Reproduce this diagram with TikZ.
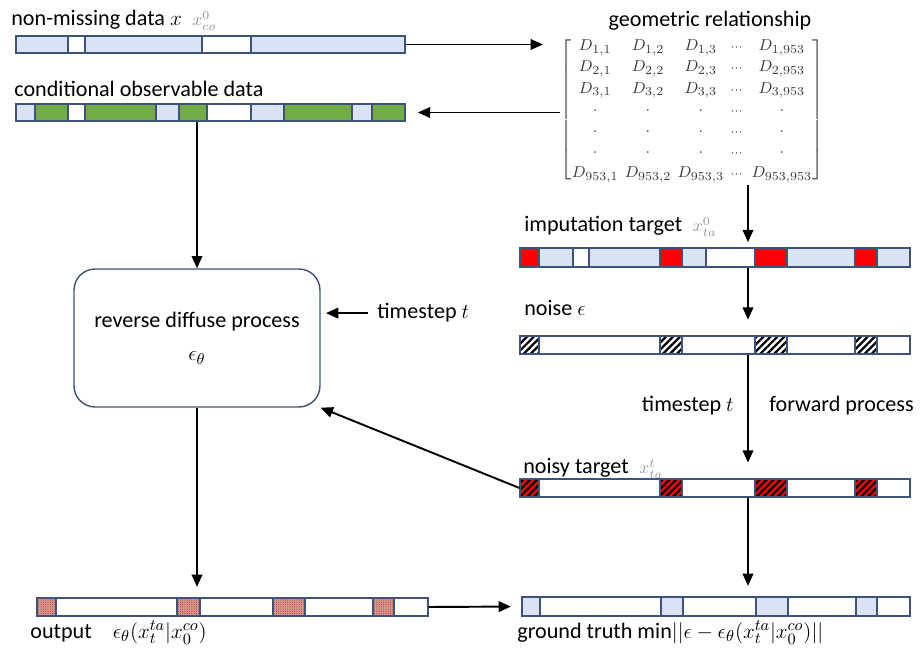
\documentclass[tikz,border=0pt]{standalone}
\usepackage{amsmath,amssymb}
\usepackage{fontspec}
\setmainfont{Carlito}
\usepackage{tikz}
\usetikzlibrary{arrows.meta,positioning,fit,calc,patterns.meta}
\definecolor{barline}{RGB}{62,82,122}
\definecolor{segfill}{RGB}{218,227,243}
\definecolor{obsgreen}{RGB}{112,173,71}
\definecolor{outpink}{RGB}{226,150,140}
\definecolor{outdots}{RGB}{150,70,60}
\tikzset{bar/.style={draw=barline,line width=0.6pt,inner sep=0pt}}
\tikzset{segblue/.style={draw=barline,line width=0.6pt,fill=segfill},
  segwhite/.style={draw=barline,line width=0.6pt,fill=white},
  seggreen/.style={draw=barline,line width=0.6pt,fill=obsgreen},
  segred/.style={draw=barline,line width=0.6pt,fill=red},
  seghatch/.style={draw=barline,line width=0.6pt,preaction={fill=white},
    pattern={Lines[angle=45,distance=2.8pt,line width=1.3pt]},pattern color=black},
  segnoisy/.style={draw=barline,line width=0.6pt,preaction={fill=red},
    pattern={Lines[angle=45,distance=2.8pt,line width=1.3pt]},pattern color=black},
  segout/.style={draw=barline,line width=0.6pt,preaction={fill=outpink},
    pattern={Dots[distance=1.3pt,radius=0.35pt]},pattern color=outdots}}
\tikzset{lbl/.style={anchor=base west,inner sep=0pt,font=\fontsize{12.6}{15}\selectfont},
  flow/.style={->,line width=1.1pt}}
\newcommand{\graymath}[1]{{\color{black!42}\fontsize{10}{12}\selectfont$#1$}}

\begin{document}
\begin{tikzpicture}[x=0.02cm, y=-0.02cm, >={Triangle[length=7pt,width=6pt]}]
\useasboundingbox (0,0) rectangle (920,648);

    % left column of bars
    \foreach \a/\b/\s in {16/68/segblue,68/85/segwhite,85/202/segblue,202/251/segwhite,251/405/segblue}
        \draw[\s] (\a,36) rectangle (\b,53);
    \node[bar,fit={(16,36) (405,53)}] (nonmiss) {};
    \node[lbl] (nonmisslbl) at (11,26) {non-missing data $x$\hspace{6pt}\graymath{x^{0}_{co}}};

    \foreach \a/\b/\s in {16/35/segblue,35/68/seggreen,68/85/segwhite,85/156/seggreen,156/179/segblue,179/207/seggreen,207/251/segwhite,251/284/segblue,284/352/seggreen,352/372/segblue,372/405/seggreen}
        \draw[\s] (\a,104) rectangle (\b,121);
    \node[bar,fit={(16,104) (405,121)}] (cond) {};
    \node[lbl] (condlbl) at (14,97) {conditional observable data};

    \node[draw=barline,line width=0.8pt,rounded corners=12pt,minimum width=4.92cm,minimum height=2.76cm,
        align=center,font=\fontsize{12.6}{15}\selectfont] (rev) at (197,338) {reverse diffuse process\\[4pt]$\epsilon_\theta$};
    \node[lbl] (tstep) at (377,319) {timestep $t$};

    \foreach \a/\b/\s in {37/56/segout,56/177/segwhite,177/200/segout,200/273/segwhite,273/305/segout,305/373/segwhite,373/394/segout,394/428/segwhite}
        \draw[\s] (\a,598) rectangle (\b,616);
    \node[bar,fit={(37,598) (428,616)}] (out) {};
    \node[lbl] (outlbl) at (30,638) {output\hspace{12pt}$\epsilon_\theta(x_t^{ta}|x_0^{co})$};

    % right column
    \node[lbl,anchor=base] (geolbl) at (710,27) {geometric relationship};
    {\renewcommand{\arraystretch}{1.05}\setlength{\arraycolsep}{1.8pt}
    \node[inner sep=0pt,text=black!78,font=\fontsize{9.5}{11.5}\selectfont] (geo) at (692,110) {$\begin{bmatrix}
        D_{1,1} & D_{1,2} & D_{1,3} & \scriptstyle\cdots & D_{1,953}\\
        D_{2,1} & D_{2,2} & D_{2,3} & \scriptstyle\cdots & D_{2,953}\\
        D_{3,1} & D_{3,2} & D_{3,3} & \scriptstyle\cdots & D_{3,953}\\
        \cdot & \cdot & \cdot & \scriptstyle\cdots & \cdot\\
        \cdot & \cdot & \cdot & \scriptstyle\cdots & \cdot\\
        \cdot & \cdot & \cdot & \scriptstyle\cdots & \cdot\\
        D_{953,1} & D_{953,2} & D_{953,3} & \scriptstyle\cdots & D_{953,953}
    \end{bmatrix}$};}

    \foreach \a/\b/\s in {520/539/segred,539/573/segblue,573/589/segwhite,589/660/segblue,660/682/segred,682/706/segblue,706/755/segwhite,755/787/segred,787/855/segblue,855/877/segred,877/910/segblue}
        \draw[\s] (\a,248) rectangle (\b,267);
    \node[bar,fit={(520,248) (910,267)}] (imp) {};
    \node[lbl] (implbl) at (524,232) {imputation target\hspace{6pt}\graymath{x^{0}_{ta}}};

    \foreach \a/\b/\s in {520/539/seghatch,539/660/segwhite,660/682/seghatch,682/755/segwhite,755/787/seghatch,787/855/segwhite,855/877/seghatch,877/910/segwhite}
        \draw[\s] (\a,336) rectangle (\b,354);
    \node[bar,fit={(520,336) (910,354)}] (noise) {};
    \node[lbl] (noiselbl) at (524,316) {noise $\epsilon$};

    \node[lbl,anchor=base east] (tfwd) at (734,412) {timestep $t$};
    \node[lbl] (fwdlbl) at (769,412) {forward process};

    \foreach \a/\b/\s in {520/539/segnoisy,539/660/segwhite,660/682/segnoisy,682/755/segwhite,755/787/segnoisy,787/855/segwhite,855/877/segnoisy,877/910/segwhite}
        \draw[\s] (\a,479) rectangle (\b,497);
    \node[bar,fit={(520,479) (910,497)}] (noisy) {};
    \node[lbl] (noisylbl) at (523,474) {noisy target\hspace{6pt}\graymath{x^{t}_{ta}}};

    \foreach \a/\b/\s in {522/540/segblue,540/661/segwhite,661/683/segblue,683/756/segwhite,756/788/segblue,788/856/segwhite,856/877/segblue,877/910/segwhite}
        \draw[\s] (\a,597) rectangle (\b,616);
    \node[bar,fit={(522,597) (910,616)}] (gt) {};
    \node[lbl] (gtlbl) at (517,638) {ground truth min$||\epsilon-\epsilon_\theta(x_t^{ta}|x_0^{co})||$};

    \coordinate (spine) at (748,0);
    \draw[flow,shorten >=10pt] (nonmiss.east) -- (nonmiss.east -| geo.west);
    \draw[flow,shorten >=7pt] (cond.east -| geo.west) -- (cond.east);
    \draw[flow] (cond.south -| rev.north) -- (rev.north);
    \draw[flow,shorten <=5pt,shorten >=3pt] (tstep.west) -- (tstep.west -| rev.east);
    \draw[flow,shorten >=3pt] (geo.south -| spine) -- (imp.north -| spine);
    \draw[flow,shorten >=9pt] (imp.south -| spine) -- (noise.north -| spine);
    \draw[flow,shorten >=9pt] (noise.south -| spine) -- (noisy.north -| spine);
    \draw[flow,shorten >=6pt] (noisy.south -| spine) -- (gt.north -| spine);
    \draw[flow] (noisy.west) -- (rev.south east);
    \draw[flow,shorten >=6pt] (rev.south) -- (rev.south |- out.north);
    \draw[flow,shorten >=6pt] (out.east) -- (gt.west);
\end{tikzpicture}
\end{document}
